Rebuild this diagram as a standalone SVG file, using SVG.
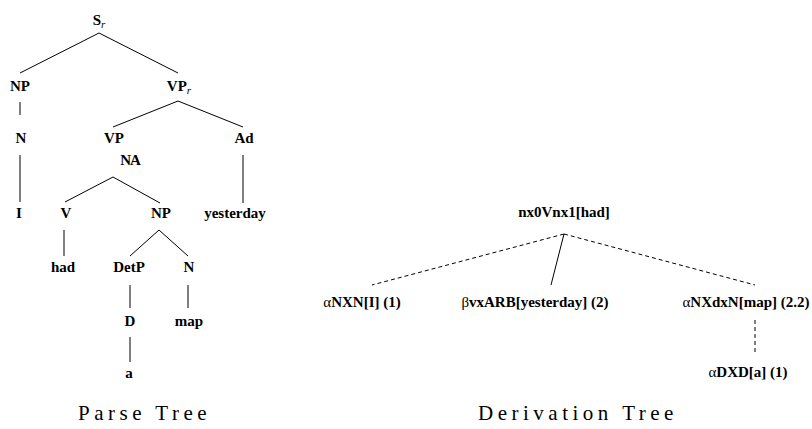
<svg xmlns="http://www.w3.org/2000/svg" width="812" height="429" viewBox="0 0 812 429">
<style>
text{font-family:'Liberation Serif','Times New Roman','DejaVu Serif',serif;fill:#000}
.n{font-size:15px;font-weight:bold;text-anchor:middle}
.g{font-weight:normal}
.sub{font-size:11px;font-style:italic;font-weight:normal}
.cap{font-size:21px;letter-spacing:4.5px}
line{stroke:#000;stroke-width:1}
.d{stroke-dasharray:4 3}
</style>
<rect width="812" height="429" fill="#fff"/>
<g id="connectors">
<line x1="99" y1="33" x2="20" y2="73"/>
<line x1="99" y1="33" x2="178" y2="73"/>
<line x1="20" y1="102" x2="20" y2="115"/>
<line x1="178" y1="101" x2="113" y2="127"/>
<line x1="178" y1="101" x2="243" y2="127"/>
<line x1="20" y1="155" x2="20" y2="202"/>
<line x1="243" y1="155" x2="243" y2="203"/>
<line x1="113" y1="177" x2="65" y2="202"/>
<line x1="113" y1="177" x2="160" y2="203"/>
<line x1="64" y1="230" x2="64" y2="256"/>
<line x1="159" y1="230" x2="130" y2="256"/>
<line x1="159" y1="230" x2="188" y2="256"/>
<line x1="130" y1="285" x2="130" y2="308"/>
<line x1="188" y1="285" x2="188" y2="308"/>
<line x1="130" y1="337" x2="130" y2="362"/>
<line class="d" x1="564" y1="234" x2="372" y2="285"/>
<line x1="564" y1="234" x2="551" y2="285"/>
<line class="d" x1="564" y1="234" x2="755" y2="285"/>
<line class="d" x1="755" y1="320" x2="755" y2="352"/>
</g>
<g id="parse-tree" font-family="Liberation Serif, serif">
<g id="n-Sr"><text class="n" x="99" y="25">S<tspan class="sub" dy="3">r</tspan></text></g>
<g id="n-NP1"><text class="n" x="20" y="91">NP</text></g>
<g id="n-VPr"><text class="n" x="179" y="91">VP<tspan class="sub" dy="3">r</tspan></text></g>
<g id="n-N1"><text class="n" x="21" y="143">N</text></g>
<g id="n-VP"><text class="n" x="114" y="143">VP</text></g>
<g id="n-Ad"><text class="n" x="244" y="143">Ad</text></g>
<g id="n-NA"><text class="n" x="130" y="165" letter-spacing="-1">NA</text></g>
<g id="n-I"><text class="n" x="19" y="218">I</text></g>
<g id="n-V"><text class="n" x="66" y="218">V</text></g>
<g id="n-NP2"><text class="n" x="161" y="218">NP</text></g>
<g id="n-yesterday"><text class="n" x="235" y="218">yesterday</text></g>
<g id="n-had"><text class="n" x="63" y="272">had</text></g>
<g id="n-DetP"><text class="n" x="129" y="272">DetP</text></g>
<g id="n-N2"><text class="n" x="189" y="272">N</text></g>
<g id="n-D"><text class="n" x="130" y="326">D</text></g>
<g id="n-map"><text class="n" x="189" y="326">map</text></g>
<g id="n-a"><text class="n" x="129" y="378">a</text></g>
</g>
<g id="derivation-tree">
<g id="d-root"><text class="n" x="564" y="217">nx0Vnx1[had]</text></g>
<g id="d-NXN"><text class="n" x="362" y="307"><tspan class="g">α</tspan>NXN[I] (1)</text></g>
<g id="d-vxARB"><text class="n" x="535" y="307"><tspan class="g">β</tspan>vxARB[yesterday] (2)</text></g>
<g id="d-NXdxN"><text class="n" x="746" y="307"><tspan class="g">α</tspan>NXdxN[map] (2.2)</text></g>
<g id="d-DXD"><text class="n" x="748" y="377"><tspan class="g">α</tspan>DXD[a] (1)</text></g>
</g>
<g id="captions">
<text class="cap" x="78" y="420">Parse Tree</text>
<text class="cap" x="478" y="420">Derivation Tree</text>
</g>
</svg>
